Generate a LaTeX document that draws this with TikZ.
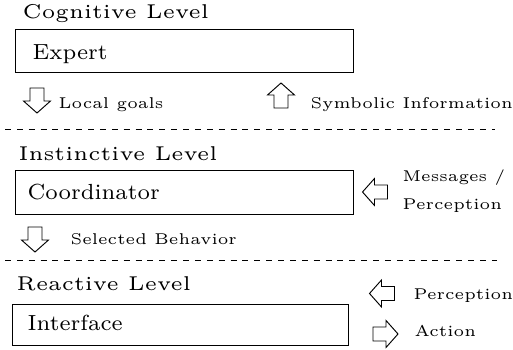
\documentclass[tikz,border=0pt]{standalone}
\newcommand\levelscaled[1]{\scalebox{1.28}{#1}}
\begin{document}
\begin{tikzpicture}[
  x=0.32pt, y=-0.32pt,
  levelname/.style={anchor=base west, inner sep=0pt, font=\fontsize{5}{6}\selectfont},
  unitname/.style={anchor=base west, inner sep=0pt, font=\fontsize{7}{8}\selectfont},
  flowlabel/.style={anchor=base west, inner sep=0pt, font=\fontsize{5}{6}\selectfont},
  unitbox/.style={draw, line width=0.32pt},
  divider/.style={line width=0.32pt, dash pattern=on 1.9pt off 1.9pt},
  blockarrow/.pic={
    \draw[line width=0.3pt, line join=miter]
      (-13,-7) -- (0,-7) -- (0,-13.5) -- (12,0) -- (0,13.5) -- (0,7) -- (-13,7) -- cycle;
  }
]
\useasboundingbox (0,0) rectangle (513,350);

% Cognitive level
\node[levelname] (cogn) at (22,19) {\levelscaled{Cognitive Level}};
\draw[unitbox] (15,30) rectangle (353,73);
\node[unitname] (expert) at (32,60) {Expert};
\pic[rotate=-90] (goalsarrow) at (37,101) {blockarrow};
\node[flowlabel] (goals) at (58,109) {Local goals};
\pic[rotate=90] (symarrow) at (281,95) {blockarrow};
\node[flowlabel] (sym) at (310,109) {Symbolic Information};

\draw[divider] (5,130) -- (495,130);

% Instinctive level
\node[levelname] (inst) at (18,161) {\levelscaled{Instinctive Level}};
\draw[unitbox] (15,171) rectangle (353,215);
\node[unitname] (coord) at (27,200) {Coordinator};
\pic[rotate=180] (msgarrow) at (374.5,192) {blockarrow};
\node[flowlabel] (msg) at (402,182) {Messages /};
\node[flowlabel] (perc1) at (402,210) {Perception};
\pic[rotate=-90] (selarrow) at (35,240) {blockarrow};
\node[flowlabel] (sel) at (70,245) {Selected Behavior};

\draw[divider] (5,261) -- (497,261);

% Reactive level
\node[levelname] (react) at (16,291) {\levelscaled{Reactive Level}};
\draw[unitbox] (12,305) rectangle (348,346);
\node[unitname] (iface) at (27,331) {Interface};
\pic[rotate=180] (percarrow) at (381.5,293.5) {blockarrow};
\node[flowlabel] (perc2) at (413,300) {Perception};
\pic (actarrow) at (386,334) {blockarrow};
\node[flowlabel] (act) at (414,337) {Action};
\end{tikzpicture}
\end{document}
